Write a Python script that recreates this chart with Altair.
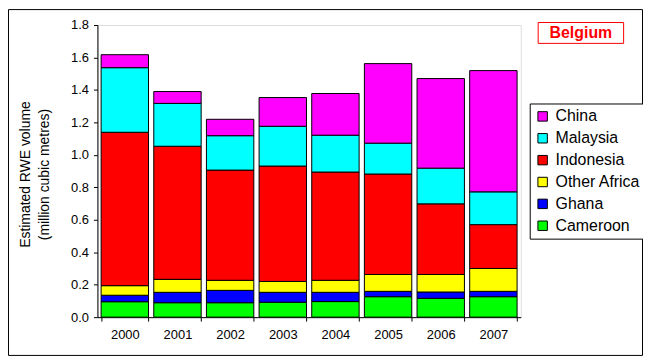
import altair as alt
import pandas as pd

years = ["2000", "2001", "2002", "2003", "2004", "2005", "2006", "2007"]
cameroon = [0.095, 0.089, 0.089, 0.092, 0.096, 0.126, 0.116, 0.126]
ghana = [0.040, 0.064, 0.076, 0.061, 0.057, 0.033, 0.039, 0.033]
other_africa = [0.059, 0.080, 0.062, 0.067, 0.074, 0.104, 0.108, 0.141]
indonesia = [0.945, 0.820, 0.679, 0.711, 0.667, 0.619, 0.435, 0.270]
malaysia = [0.398, 0.264, 0.212, 0.245, 0.227, 0.190, 0.220, 0.202]
china = [0.080, 0.073, 0.101, 0.177, 0.257, 0.490, 0.552, 0.747]

series = [
    ("Cameroon", cameroon),
    ("Ghana", ghana),
    ("Other Africa", other_africa),
    ("Indonesia", indonesia),
    ("Malaysia", malaysia),
    ("China", china),
]
legend_order = ["China", "Malaysia", "Indonesia", "Other Africa", "Ghana", "Cameroon"]
colors = ["#FF00FF", "#00FFFF", "#FF0000", "#FFFF00", "#0000FF", "#00FF00"]

rows = []
for i, (name, vals) in enumerate(series):
    for y, v in zip(years, vals):
        rows.append({"year": y, "source": name, "value": v, "order": i})
df = pd.DataFrame(rows)

FONT = "Liberation Sans"

bars = alt.Chart(df).mark_bar(stroke="black", strokeWidth=1).encode(
    x=alt.X("year:O", title=None,
            scale=alt.Scale(paddingInner=0.1, paddingOuter=0.07),
            axis=alt.Axis(labelAngle=0, tickBand="extent", tickSize=4,
                          labelPadding=7, domainColor="black", tickColor="black",
                          labelFont=FONT, labelFontSize=13, labelColor="black")),
    y=alt.Y("value:Q", stack="zero",
            title=["Estimated RWE volume", "(million cubic metres)"],
            scale=alt.Scale(domain=[0, 1.8], nice=False),
            axis=alt.Axis(values=[0, 0.2, 0.4, 0.6, 0.8, 1.0, 1.2, 1.4, 1.6, 1.8],
                          format=".1f", grid=False, tickSize=4, labelPadding=5,
                          domainColor="black", tickColor="black",
                          labelFont=FONT, labelFontSize=13, labelColor="black",
                          titleFont=FONT, titleFontSize=14, titleFontWeight="normal",
                          titleColor="black", titleX=-72, titleY=150,
                          titleAngle=-90, titleAlign="center", titleBaseline="middle",
                          titleLineHeight=19)),
    color=alt.Color("source:N",
                    scale=alt.Scale(domain=legend_order, range=colors),
                    legend=alt.Legend(title=None, orient="none", legendX=435, legendY=79,
                                      strokeColor="black", padding=5,
                                      symbolType="square", symbolSize=90,
                                      symbolStrokeColor="black", symbolStrokeWidth=1,
                                      symbolOpacity=1,
                                      labelFont=FONT, labelFontSize=16, labelColor="black",
                                      rowPadding=6, labelOffset=5, fillColor="white")),
    order=alt.Order("order:Q", sort="ascending"),
)

one = pd.DataFrame({"t": ["Belgium"]})

frame = alt.Chart(one).mark_rect(fill="transparent", stroke="black", strokeWidth=1).encode(
    x=alt.value(-89.5), x2=alt.value(548.5), y=alt.value(-15.5), y2=alt.value(332.5)
)

title_box = alt.Chart(one).mark_rect(fill="white", stroke="red", strokeWidth=1).encode(
    x=alt.value(443.5), x2=alt.value(529.5), y=alt.value(-2.5), y2=alt.value(18.5)
)
title_text = alt.Chart(one).mark_text(color="red", font=FONT, fontSize=16,
                                      fontWeight="bold", baseline="middle", align="center").encode(
    x=alt.value(486.5), y=alt.value(8.5), text="t:N"
)

chart = alt.layer(frame, bars, title_box, title_text).properties(
    width=426, height=294,
    autosize=alt.AutoSizeParams(type="none"),
    padding={"left": 90, "top": 16, "right": 123, "bottom": 39},
).configure_view(stroke="#808080", strokeWidth=1).configure(background="white")

chart.save("out.html", embed_options={"renderer": "svg", "actions": False})
